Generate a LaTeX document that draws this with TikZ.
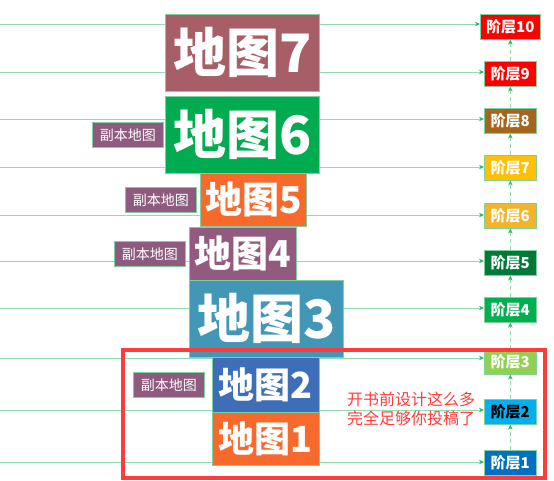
\documentclass[tikz,border=0pt]{standalone}
\usepackage{fontspec}
\newfontfamily\cjk{Noto Sans CJK SC}
\usetikzlibrary{arrows.meta}
\definecolor{lineg}{HTML}{8FDBB2}
\definecolor{arrg}{HTML}{2DB56A}
\definecolor{edgeg}{HTML}{7FCFA0}
\definecolor{mseven}{HTML}{A85E66}
\definecolor{msix}{HTML}{00AC4F}
\definecolor{mfive}{HTML}{F76A2B}
\definecolor{mfour}{HTML}{935A80}
\definecolor{mthree}{HTML}{4297B7}
\definecolor{mtwo}{HTML}{3F6EB9}
\definecolor{mone}{HTML}{F76A2B}
\definecolor{copyc}{HTML}{8E5A7E}
\definecolor{lten}{HTML}{FF0000}
\definecolor{lnine}{HTML}{FF0000}
\definecolor{leight}{HTML}{A5651E}
\definecolor{lseven}{HTML}{FFC000}
\definecolor{lsix}{HTML}{F2B428}
\definecolor{lfive}{HTML}{007A37}
\definecolor{lfour}{HTML}{00B050}
\definecolor{lthree}{HTML}{92D050}
\definecolor{ltwo}{HTML}{00B0F0}
\definecolor{lone}{HTML}{0070C0}
\definecolor{redc}{HTML}{FF3B3B}
\tikzset{
  mapbox/.style={draw=edgeg, line width=0.6pt, anchor=north west, inner sep=0pt, text=white,
    font=\cjk\bfseries, align=center},
  copybox/.style={draw=edgeg, line width=0.6pt, fill=copyc, anchor=north west, inner sep=0pt,
    minimum width=71pt, minimum height=25pt, text=white, font=\cjk\fontsize{14}{14}\selectfont},
  layerbox/.style={draw=edgeg, line width=0.6pt, anchor=north west, inner sep=0pt,
    minimum width=52pt, minimum height=25pt, text=white, font=\cjk\bfseries\fontsize{15}{15}\selectfont},
  hline/.style={draw=lineg, line width=1pt, -{Stealth[length=5pt,width=4.5pt,color=arrg]}},
  vline/.style={draw=lineg, line width=1.3pt, dash pattern=on 4pt off 3pt,
    -{Stealth[length=5pt,width=4.5pt,color=arrg]}}
}
\begin{document}
\begin{tikzpicture}[x=1pt,y=-1pt]
\useasboundingbox (0,0) rectangle (554,480);
% layer boxes
\node[layerbox, fill=lten, minimum width=60pt] (L10) at (480,14) {阶层10};
\node[layerbox, fill=lnine] (L9) at (484,61) {阶层9};
\node[layerbox, fill=leight] (L8) at (484,108) {阶层8};
\node[layerbox, fill=lseven] (L7) at (484,155) {阶层7};
\node[layerbox, fill=lsix] (L6) at (484,203) {阶层6};
\node[layerbox, fill=lfive] (L5) at (484,250) {阶层5};
\node[layerbox, fill=lfour] (L4) at (484,297) {阶层4};
\node[layerbox, fill=lthree] (L3) at (484,349) {阶层3};
\node[layerbox, fill=ltwo, text=black] (L2) at (484,399) {阶层2};
\node[layerbox, fill=lone] (L1) at (484,450) {阶层1};
% left anchors of horizontal lines
\coordinate (s10) at (0,24);
\coordinate (s9) at (0,72);
\coordinate (s8) at (0,119);
\coordinate (s7) at (0,167);
\coordinate (s6) at (0,215);
\coordinate (s5) at (0,261);
\coordinate (s4) at (0,308);
\coordinate (s3) at (0,358);
\coordinate (s2) at (0,410);
\coordinate (s1) at (0,462);
\foreach \i in {1,...,10} {
  \draw[hline] (s\i) -- (s\i -| L\i.west);
}
% vertical dashed arrows
\draw[vline] (L1.north) -- (L2.south);
\draw[vline] (L2.north) -- (L3.south);
\draw[vline] (L3.north) -- (L4.south);
\draw[vline] (L4.north) -- (L5.south);
\draw[vline] (L5.north) -- (L6.south);
\draw[vline] (L6.north) -- (L7.south);
\draw[vline] (L7.north) -- (L8.south);
\draw[vline] (L8.north) -- (L9.south);
\draw[vline] (L9.north) -- (L10.south);
% map boxes
\node[mapbox, fill=mseven, minimum width=154pt, minimum height=77pt, font=\cjk\bfseries\fontsize{53}{53}\selectfont] (m7) at (165,14) {地图7};
\node[mapbox, fill=msix, minimum width=154pt, minimum height=77pt, font=\cjk\bfseries\fontsize{53}{53}\selectfont] (m6) at (165,96) {地图6};
\node[mapbox, fill=mfive, minimum width=106pt, minimum height=53pt, font=\cjk\bfseries\fontsize{37}{37}\selectfont] (m5) at (200,173) {地图5};
\node[mapbox, fill=mfour, minimum width=107pt, minimum height=53pt, font=\cjk\bfseries\fontsize{37}{37}\selectfont] (m4) at (189,227) {地图4};
\node[mapbox, fill=mthree, minimum width=154pt, minimum height=77pt, font=\cjk\bfseries\fontsize{53}{53}\selectfont] (m3) at (189,280) {地图3};
\node[mapbox, fill=mtwo, minimum width=107pt, minimum height=55pt, font=\cjk\bfseries\fontsize{36}{36}\selectfont] (m2) at (212,357) {地图2};
\node[mapbox, fill=mone, minimum width=107pt, minimum height=53pt, font=\cjk\bfseries\fontsize{36}{36}\selectfont] (m1) at (212,412) {地图1};
% copy labels
\node[copybox] (c6) at (92,122) {副本地图};
\node[copybox] (c5) at (125,187) {副本地图};
\node[copybox] (c4) at (114,241) {副本地图};
\node[copybox] (c2) at (133,372) {副本地图};
% red frame and note
\node[draw=redc, line width=3.5pt, anchor=north west, inner sep=0pt, minimum width=422pt, minimum height=128pt] (frame) at (121,348) {};
\node[text=redc, font=\cjk\fontsize{16}{19}\selectfont, align=left] (note) at (411,408.5) {开书前设计这么多\\完全足够你投稿了};
\end{tikzpicture}
\end{document}
